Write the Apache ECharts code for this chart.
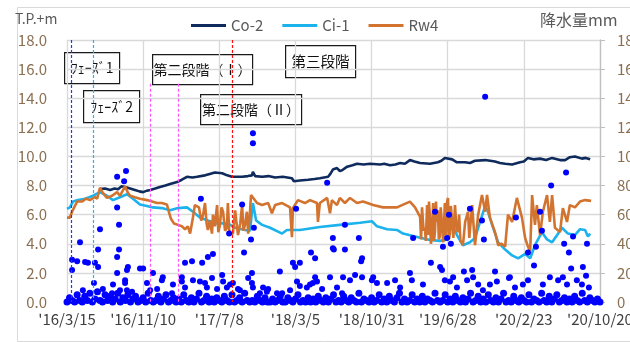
<!DOCTYPE html>
<html>
<head>
<meta charset="utf-8">
<script src="https://cdn.jsdelivr.net/npm/echarts@6/dist/echarts.min.js"></script>
<style>
  html, body { margin: 0; padding: 0; background: #fff; }
  #chart { width: 630px; height: 342px; }
</style>
</head>
<body>
<div id="chart"></div>
<script>
// Horizontal axis: days counted from 2016/3/15, one tick every 240 days
const xTickLabels = ["'16/3/15", "'16/11/10", "'17/7/8", "'18/3/5", "'18/10/31", "'19/6/28", "'20/2/23", "'20/10/20"];
const tickStepDays = 240;
const leftTicks = [0, 2, 4, 6, 8, 10, 12, 14, 16, 18];       // T.P.+m
const rightTicks = [0, 20, 40, 60, 80, 100, 120, 140, 160, 180]; // mm

// Water levels, [day, T.P.+m]
const co2 = [[104,7.76],[120,7.8],[136,7.7],[150,7.8],[161,7.75],[172,7.95],[183,7.9],[199,7.8],[214,7.7],[228,7.6],[240,7.55],[252,7.65],[262,7.7],[278,7.8],[293,7.9],[310,8.0],[325,8.1],[347,8.24],[362,8.4],[378,8.6],[395,8.55],[410,8.6],[435,8.7],[450,8.8],[466,8.9],[489,8.85],[505,8.7],[520,8.6],[552,8.6],[570,8.65],[583,8.7],[586,8.95],[593,8.65],[615,8.6],[635,8.65],[656,8.55],[680,8.6],[709,8.5],[715,8.3],[734,8.35],[760,8.4],[780,8.45],[797,8.5],[823,8.6],[830,8.8],[838,9.1],[851,9.2],[860,9.0],[867,9.05],[883,9.3],[900,9.4],[914,9.5],[935,9.45],[955,9.5],[987,9.45],[1000,9.5],[1018,9.4],[1035,9.45],[1050,9.55],[1065,9.5],[1081,9.75],[1095,9.65],[1113,9.55],[1144,9.5],[1169,9.6],[1180,9.7],[1191,9.9],[1214,9.8],[1229,9.6],[1255,9.6],[1270,9.55],[1286,9.7],[1318,9.75],[1349,9.65],[1365,9.55],[1381,9.5],[1403,9.45],[1428,9.6],[1440,9.65],[1453,9.9],[1470,9.8],[1491,9.85],[1510,9.75],[1529,9.9],[1554,9.75],[1570,9.75],[1585,9.95],[1601,10.0],[1623,9.85],[1635,9.9],[1649,9.8]];

const ci1 = [[0,6.4],[9,6.5],[19,6.9],[35,7.0],[57,7.1],[70,7.2],[82,7.3],[104,7.55],[126,7.3],[145,7.0],[167,7.2],[189,7.4],[208,7.1],[230,6.7],[252,6.6],[271,6.5],[299,6.45],[325,6.3],[350,6.45],[378,6.5],[397,6.2],[419,5.8],[444,5.6],[473,5.4],[507,5.4],[530,5.1],[561,4.95],[577,4.9],[586,6.8],[596,5.6],[615,5.3],[640,5.1],[678,4.7],[693,4.95],[734,4.95],[797,5.15],[860,5.3],[924,5.45],[961,5.55],[977,5.2],[1009,5.0],[1040,4.95],[1059,4.7],[1097,4.5],[1144,4.26],[1176,4.2],[1198,4.3],[1214,5.4],[1229,4.6],[1248,3.9],[1270,4.1],[1286,4.4],[1302,5.5],[1318,6.6],[1327,6.2],[1340,5.3],[1359,4.1],[1381,3.6],[1403,3.2],[1422,3.0],[1444,3.3],[1460,3.0],[1475,3.9],[1497,4.8],[1513,4.3],[1529,4.1],[1545,4.6],[1560,5.1],[1579,4.7],[1601,4.6],[1617,5.0],[1633,4.95],[1642,4.5],[1649,4.7]];

const rw4 = [[0,5.8],[9,5.8],[16,6.2],[25,6.6],[32,6.9],[47,6.9],[60,7.1],[72,7.0],[88,7.2],[95,7.1],[104,7.85],[113,7.5],[126,7.15],[142,7.3],[158,7.55],[167,7.3],[183,7.95],[192,7.5],[199,7.3],[214,7.2],[230,7.1],[252,7.0],[268,6.9],[284,6.8],[299,6.8],[315,6.7],[321,6.2],[328,5.7],[337,5.4],[350,5.3],[362,5.2],[372,5.0],[381,5.2],[388,4.7],[397,5.8],[403,6.66],[407,6.6],[416,6.5],[423,5.6],[429,6.0],[435,6.8],[440,5.4],[444,4.95],[450,5.6],[457,4.7],[460,6.0],[466,5.2],[473,6.66],[477,4.8],[482,5.3],[487,6.5],[492,6.2],[498,4.9],[504,5.1],[507,6.8],[511,5.0],[514,4.7],[523,4.7],[530,6.3],[536,5.15],[539,4.6],[546,5.4],[552,6.66],[556,4.9],[561,5.3],[567,6.2],[571,4.7],[576,5.9],[580,7.35],[586,7.35],[599,6.8],[615,6.66],[634,6.8],[646,6.1],[656,6.66],[678,6.8],[703,6.5],[709,4.45],[712,6.45],[728,7.0],[750,6.8],[766,7.0],[788,6.8],[791,5.5],[797,6.8],[820,7.15],[829,6.1],[835,7.0],[851,6.66],[860,7.15],[876,6.8],[892,7.15],[914,6.8],[933,6.9],[965,6.66],[996,6.5],[1040,6.5],[1081,6.9],[1097,6.5],[1113,5.85],[1116,4.3],[1119,6.5],[1124,4.9],[1128,5.1],[1131,4.2],[1135,6.66],[1138,4.6],[1141,6.9],[1144,5.8],[1147,4.0],[1150,4.45],[1154,6.8],[1157,4.2],[1160,4.9],[1163,6.9],[1166,5.5],[1169,6.3],[1172,4.3],[1175,4.5],[1178,6.5],[1182,5.3],[1186,4.1],[1191,6.8],[1193,4.6],[1196,5.0],[1198,6.9],[1201,7.15],[1204,4.3],[1207,4.7],[1210,6.6],[1214,5.5],[1218,4.4],[1223,6.66],[1227,5.2],[1232,4.8],[1236,6.0],[1240,4.2],[1245,4.05],[1248,3.9],[1255,5.5],[1264,6.2],[1268,4.4],[1277,6.66],[1286,3.9],[1296,6.0],[1308,7.35],[1318,6.2],[1324,7.35],[1333,5.8],[1349,4.8],[1359,3.9],[1370,4.0],[1381,3.8],[1390,6.0],[1403,5.5],[1418,7.15],[1434,5.8],[1444,4.4],[1453,3.8],[1460,3.5],[1466,7.35],[1475,5.3],[1481,6.66],[1491,4.6],[1500,6.2],[1513,7.35],[1522,5.5],[1529,7.35],[1538,5.1],[1554,4.8],[1563,6.45],[1576,5.5],[1585,6.66],[1601,6.5],[1617,6.9],[1633,7.0],[1652,6.95]];

// Daily rainfall, [day, mm]: wet days
const rainEvents = [[16,29],[16,22],[32,28],[41,41],[50,8],[57,27.5],[66,27],[85,13],[88,27],[98,36],[98,24],[104,50],[113,9],[142,6],[145,12],[158,86],[158,65],[158,31],[158,20],[164,53],[164,36],[167,8],[180,83],[186,90],[183,15],[183,13],[189,22],[189,8],[192,24],[205,7],[230,23],[240,23],[252,13],[262,8],[271,20],[284,9],[299,15],[302,17],[331,6],[334,12],[362,17],[362,14],[372,27],[372,10],[394,28],[397,15],[419,14],[422,71],[426,27],[435,13],[441,10],[444,31],[457,16.5],[460,33],[473,9],[489,18.5],[492,14],[504,10],[511,47],[514,12],[523,13],[539,9],[545,8],[552,67],[558,34],[571,16.5],[580,43],[583,20],[583,13],[586,116],[586,109],[586,10],[589,51],[608,6],[618,10],[630,7],[634,9],[662,6],[671,21],[678,6],[703,8],[712,27],[719,24],[722,64],[725,14],[734,27],[734,11],[756,10],[766,12],[769,34],[775,13],[782,30],[782,17],[788,14],[804,9],[820,82],[829,17],[838,44],[838,37],[841,36],[851,10],[867,6],[870,17],[876,53],[876,36],[892,15],[908,18.5],[920,44],[927,28],[930,30],[930,17],[961,15],[965,17],[977,13],[1009,13],[1034,15],[1050,10],[1081,20],[1087,15],[1091,44],[1122,12],[1147,27],[1160,62],[1176,24],[1182,22],[1185,38],[1191,15],[1198,44],[1204,60],[1207,14],[1210,40],[1217,17],[1229,10],[1251,21],[1261,15],[1270,64],[1277,22],[1280,17],[1296,12],[1308,56],[1311,8],[1314,43],[1318,141],[1333,12],[1349,21],[1355,14],[1393,16.5],[1396,17],[1412,10],[1415,58],[1437,12],[1453,34],[1453,15],[1472,25],[1478,38],[1491,62],[1497,49],[1500,12],[1522,17],[1526,80],[1548,15],[1563,17],[1567,40],[1573,89],[1576,12],[1582,34],[1589,23],[1595,45],[1607,15],[1623,12],[1626,24],[1636,18],[1639,40],[1645,10]];

// Light rainfall, mm, one reading every 8 days from day 0
const rainLightStepDays = 8;
const rainLight = [
  0,3,1,0,5,1,0,4,1,6,0,2,7,1,0,5,1,4,0,2,
  6,0,3,1,5,0,2,4,0,1,3,0,6,1,0,1,4,0,2,5,
  0,1,3,0,2,0,5,1,0,3,0,2,6,0,1,4,0,2,0,3,
  1,0,4,1,0,5,0,1,3,0,6,1,0,1,0,4,1,0,3,0,
  0,2,0,1,4,0,0,3,1,0,2,5,0,1,0,3,0,2,0,4,
  1,0,3,0,2,5,0,1,0,4,1,0,3,1,0,6,0,2,1,0,
  3,0,1,5,0,2,0,4,1,0,3,6,0,2,0,1,5,0,2,0,
  4,0,2,1,0,6,1,0,1,5,0,2,0,4,1,0,3,0,2,6,
  0,1,4,0,2,0,5,1,0,3,0,2,6,0,1,0,4,1,0,3,
  1,0,5,0,2,1,0,6,1,0,4,0,2,5,0,1,3,0,2,0,
  4,1,0,6,1,0,3,1,0,2,0
];

// Construction phase boundaries: day, top of the marker line (T.P.+m), colour
const phaseDays = [13, 82, 262, 350, 520];
const phaseTops = [18, 18, 15, 15, 18];
const phaseColors = ['#2f2fff', '#26b4ec', '#ff55ff', '#ff55ff', '#ff1010'];

const FONT = '"Noto Sans CJK JP", "Noto Sans", sans-serif';

const rainLightPoints = rainLight.map((v, i) => [i * rainLightStepDays, v]);

// one dashed marker series per phase boundary, so each keeps its own colour
const phaseSeries = phaseDays.map((d, i) => ({
  name: 'phase' + i, type: 'line', yAxisIndex: 0, data: [], z: 60,
  color: phaseColors[i],
  markLine: {
    silent: true, symbol: 'none', animation: false,
    label: { show: false },
    lineStyle: { color: phaseColors[i], type: [3, 2], width: 1.2, opacity: 1 },
    emphasis: { disabled: true },
    data: [[{ coord: [d, phaseTops[i]] }, { coord: [d, 0] }]]
  }
}));

function labelBox(text, x, y, w, h, size) {
  return {
    type: 'group', left: x, top: y, z: 50,
    children: [
      { type: 'rect', shape: { x: 0, y: 0, width: w, height: h },
        style: { fill: '#fff', stroke: '#1a1a1a', lineWidth: 1.2 } },
      { type: 'text', x: w / 2, y: h / 2,
        style: { text: text, fill: '#111', font: size + 'px ' + FONT, align: 'center', verticalAlign: 'middle' } }
    ]
  };
}

const chart = echarts.init(document.getElementById('chart'), null, { renderer: 'canvas' });
chart.setOption({
  animation: false,
  backgroundColor: '#fff',
  textStyle: { fontFamily: FONT },
  grid: { left: 67, right: 30, top: 40, bottom: 40, containLabel: false, outerBoundsMode: 'none' },
  legend: {
    data: ['Co-2', 'Ci-1', 'Rw4'],
    left: 186, top: 13,
    icon: 'rect', itemWidth: 35, itemHeight: 3, itemGap: 19,
    textStyle: { fontSize: 15, color: '#595959', fontFamily: FONT }
  },
  xAxis: {
    type: 'value', min: 0, max: tickStepDays * (xTickLabels.length - 1), interval: tickStepDays,
    axisLine: { show: true, lineStyle: { color: '#d9d9d9' } },
    axisTick: { show: false },
    splitLine: { show: true, lineStyle: { color: '#d9d9d9', width: 1.3 } },
    axisLabel: {
      fontSize: 15, color: '#404040', margin: 10, fontFamily: FONT, hideOverlap: false,
      formatter: v => xTickLabels[Math.round(v / tickStepDays)] || ''
    }
  },
  yAxis: [
    {
      type: 'value', min: leftTicks[0], max: leftTicks[leftTicks.length - 1], interval: leftTicks[1] - leftTicks[0],
      axisLine: { show: false }, axisTick: { show: false },
      splitLine: { lineStyle: { color: '#d9d9d9', width: 1.3 } },
      axisLabel: { fontSize: 15, color: '#8a6f52', margin: 20, fontFamily: FONT, formatter: v => v.toFixed(1) }
    },
    {
      type: 'value', position: 'right', min: rightTicks[0], max: rightTicks[rightTicks.length - 1],
      interval: rightTicks[1] - rightTicks[0],
      axisLine: { show: true, lineStyle: { color: '#bfbfbf', width: 1.3 } },
      axisTick: { show: true, length: 5, lineStyle: { color: '#bfbfbf' } },
      splitLine: { show: false },
      axisLabel: { fontSize: 15, color: '#8a6f52', margin: 17, fontFamily: FONT }
    }
  ],
  series: [
    {
      name: 'Co-2', type: 'line', yAxisIndex: 0, data: co2, showSymbol: false, z: 3,
      lineStyle: { color: '#0f2a5c', width: 2.6 }, itemStyle: { color: '#0f2a5c' }
    },
    {
      name: 'Ci-1', type: 'line', yAxisIndex: 0, data: ci1, showSymbol: false, z: 3,
      lineStyle: { color: '#1cb2ec', width: 2.6 }, itemStyle: { color: '#1cb2ec' }
    },
    {
      name: 'Rw4', type: 'line', yAxisIndex: 0, data: rw4, showSymbol: false, z: 3,
      lineStyle: { color: '#d2742f', width: 2.6 }, itemStyle: { color: '#d2742f' }
    },
    {
      name: '降水量', type: 'scatter', yAxisIndex: 1, data: rainEvents, z: 4,
      symbolSize: 6, itemStyle: { color: '#0000ff', opacity: 1 }
    },
    {
      name: '降水量(少)', type: 'scatter', yAxisIndex: 1, data: rainLightPoints, z: 4,
      symbolSize: 7, itemStyle: { color: '#0000ff', opacity: 1 }
    }
  ].concat(phaseSeries),
  graphic: [
    { type: 'rect', left: 15, top: 5, shape: { width: 700, height: 334 },
      style: { fill: 'none', stroke: '#d9d9d9', lineWidth: 1 }, z: 0, silent: true },
    { type: 'text', left: 15, top: 12, style: { text: 'T.P.+m', fill: '#595959', font: '14px ' + FONT } },
    { type: 'text', left: 540, top: 12, style: { text: '降水量mm', fill: '#595959', font: '16px ' + FONT } },
    labelBox('ﾌｪｰｽﾞ1', 64, 52, 55, 31, 14),
    labelBox('ﾌｪｰｽﾞ2', 83, 90, 56, 32, 14),
    labelBox('第二段階（Ⅰ）', 152, 54, 100, 30, 14),
    labelBox('第二段階（Ⅱ）', 200, 94, 101, 30, 14),
    labelBox('第三段階', 285, 45, 70, 32, 14.5)
  ]
});
</script>
</body>
</html>
